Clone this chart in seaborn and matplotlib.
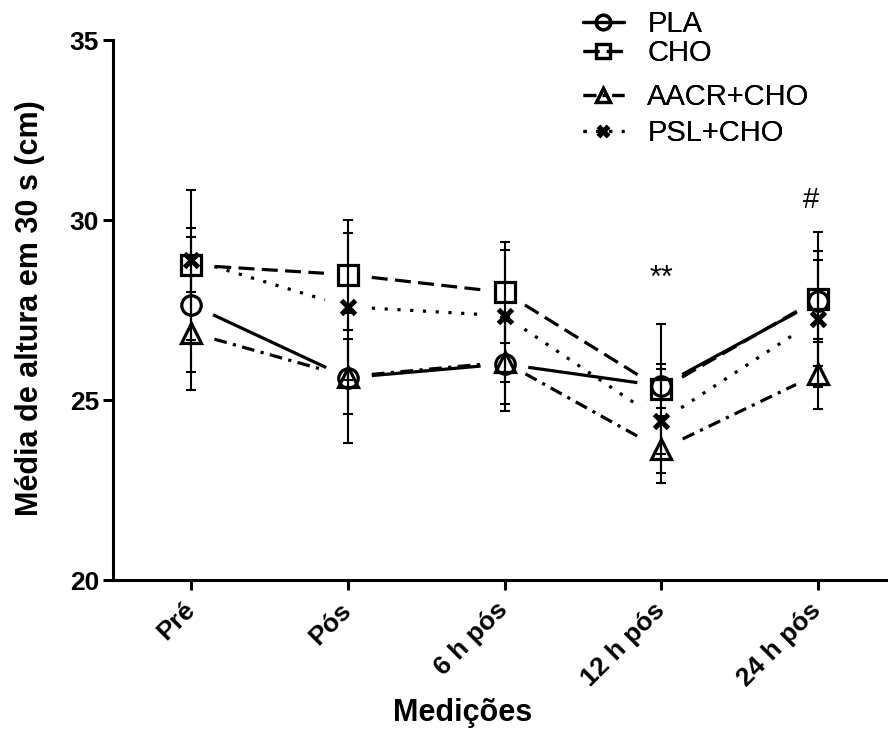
import numpy as np
import pandas as pd
import matplotlib
matplotlib.use("Agg")
import matplotlib.pyplot as plt
from matplotlib.lines import Line2D
import seaborn as sns

# ---------------- data ----------------
categories = ['Pré', 'Pós', '6 h pós', '12 h pós', '24 h pós']
series_names = ['PLA', 'CHO', 'AACR+CHO', 'PSL+CHO']

pla_mean = [27.65, 25.62, 26.00, 25.39, 27.75]
pla_sd = [1.87, 1.81, 1.30, 0.60, 1.14]
cho_mean = [28.75, 28.48, 27.99, 25.30, 27.80]
cho_sd = [2.07, 1.53, 1.41, 1.81, 1.86]
aacr_mean = [26.87, 25.65, 26.05, 23.63, 25.72]
aacr_sd = [1.59, 1.05, 1.15, 0.93, 0.98]
psl_mean = [28.90, 27.59, 27.34, 24.42, 27.25]
psl_sd = [0.89, 2.04, 1.84, 1.44, 1.89]

y_ticks = [20, 25, 30, 35]
annot_12h = '**'
annot_24h = '#'

# ---------------- style ----------------
sns.set_style('ticks')
plt.rcParams['font.family'] = ['Liberation Sans', 'DejaVu Sans']
for k in ['text.color', 'axes.labelcolor', 'xtick.color', 'ytick.color',
          'axes.edgecolor']:
    plt.rcParams[k] = 'black'

means = [pla_mean, cho_mean, aacr_mean, psl_mean]
sds = [pla_sd, cho_sd, aacr_sd, psl_sd]
markers = ['o', 's', '^', 'x']
msizes = [14, 14, 14, 10]
mews = [2.3, 2.3, 2.3, 3.6]
lstyles = ['-', (0, (5, 2.3)), (0, (4, 2, 1, 2)), (0, (1, 3))]

W, H = 888, 733
fig = plt.figure(figsize=(W / 100, H / 100), dpi=100)
ax_left, ax_right, ax_top, ax_bottom = 113, 896, 40, 580
ax = fig.add_axes([ax_left / W, 1 - ax_bottom / H,
                   (ax_right - ax_left) / W, (ax_bottom - ax_top) / H])
ax.set_xlim(-0.5, 4.5)
ax.set_ylim(20, 35)

xpos = np.arange(len(categories))
rows = []
for name, m, s in zip(series_names, means, sds):
    for i, c in enumerate(categories):
        rows.append(dict(group=name, idx=i, cat=c, mean=m[i], sd=s[i]))
df = pd.DataFrame(rows)

# error bars
for name in series_names:
    d = df[df.group == name]
    ax.errorbar(d.idx, d['mean'], yerr=d.sd, fmt='none', ecolor='black',
                elinewidth=1.5, capsize=3.5, capthick=1.5, zorder=2)

# markers via seaborn
for name, mk, ms, mew in zip(series_names, markers, msizes, mews):
    d = df[df.group == name]
    sns.lineplot(data=d, x='idx', y='mean', ax=ax, linestyle='', marker=mk,
                 markersize=ms, markerfacecolor='none', markeredgecolor='black',
                 markeredgewidth=mew, color='black', legend=False, zorder=3,
                 errorbar=None, sort=False)


# connecting lines with gaps around markers (computed from data in display space)
def gapped_line(ax, xs, ys, gap_px, **kw):
    T = ax.transData
    pts = T.transform(np.column_stack([xs, ys]))
    inv = T.inverted()
    for p0, p1 in zip(pts[:-1], pts[1:]):
        dvec = p1 - p0
        L = np.hypot(*dvec)
        u = dvec / L
        seg = inv.transform(np.array([p0 + u * gap_px, p1 - u * gap_px]))
        ax.plot(seg[:, 0], seg[:, 1], **kw)


for name, ls in zip(series_names, lstyles):
    d = df[df.group == name]
    gapped_line(ax, d.idx.values, d['mean'].values, 24, color='black',
                lw=2.3, linestyle=ls, zorder=2.5, dash_capstyle='butt',
                solid_capstyle='butt')

# annotations
ax.text(3, 28.35, annot_12h, ha='center', va='center', fontsize=22)
ax.text(3.96, 30.55, annot_24h, ha='center', va='center', fontsize=21)

# axes styling
ax.set_xticks(xpos)
ax.set_xticklabels(categories, rotation=45, ha='right', va='center',
                   rotation_mode='anchor', fontweight='bold', fontsize=19)
ax.set_yticks(y_ticks)
ax.set_yticklabels([str(t) for t in y_ticks], fontweight='bold', fontsize=19)
ax.tick_params(axis='both', length=7, width=2.2, color='black', direction='out')
ax.tick_params(axis='x', pad=12)
ax.tick_params(axis='y', pad=3)
for side in ['top', 'right']:
    ax.spines[side].set_visible(False)
for side in ['left', 'bottom']:
    ax.spines[side].set_linewidth(2.2)
    ax.spines[side].set_color('black')

ax.set_xlabel('Medições', fontweight='bold', fontsize=22)
ax.set_ylabel('Média de altura em 30 s (cm)', fontweight='bold', fontsize=22)
ax.xaxis.set_label_coords((463 - ax_left) / (ax_right - ax_left),
                          (ax_bottom - 713) / (ax_bottom - ax_top))
ax.xaxis.label.set_va('center')
ax.yaxis.set_label_coords((30 - ax_left) / (ax_right - ax_left),
                          (ax_bottom - 308) / (ax_bottom - ax_top))
ax.yaxis.label.set_va('center')

# legend: separate entries (uneven vertical spacing as in reference)
legend_y = [24, 53, 97, 133]
for name, mk, ms, mew, ls, ly in zip(series_names, markers, msizes, mews, lstyles, legend_y):
    h = Line2D([], [], color='black', lw=2.3, linestyle=ls, marker=mk,
               markersize=ms * 0.75, markerfacecolor='none',
               markeredgecolor='black', markeredgewidth=mew)
    leg = fig.legend([h], [name], loc='center left',
                     bbox_to_anchor=(583 / W, 1 - ly / H), frameon=False,
                     fontsize=21, handlelength=1.4, handletextpad=0.8,
                     borderpad=0, borderaxespad=0)
    fig.add_artist(leg)

fig.savefig('out.png', dpi=100)
